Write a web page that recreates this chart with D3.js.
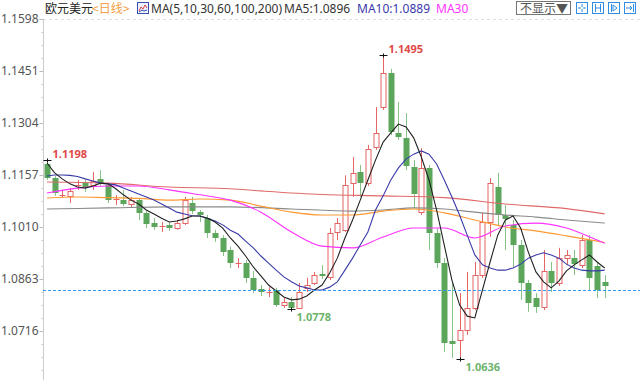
<!DOCTYPE html>
<html>
<head>
<meta charset="utf-8">
<script src="https://cdn.jsdelivr.net/npm/d3@7"></script>
<style>
body {margin:0;background:#fff;}
svg {display:block;font-family:"Noto Sans","Noto Sans CJK SC",sans-serif;}
</style>
</head>
<body>
<svg id="chart" width="640" height="380"></svg>
<script>
// daily candles
var opens  = [1.1188,1.1148,1.1101,1.1098,1.1129,1.1134,1.1129,1.1146,1.1129,1.1089,1.1086,1.1075,1.1086,1.1050,1.1021,1.1013,1.1016,1.1007,1.1021,1.1078,
              1.1052,1.1035,1.0993,1.0979,1.0945,1.0908,1.0908,1.0866,1.0835,1.0826,1.0832,1.0789,1.0798,1.0781,1.0838,1.0852,1.0877,1.0869,1.0996,1.1002,
              1.1134,1.1165,1.1134,1.1236,1.1349,1.1445,1.1276,1.1262,1.1180,1.1052,1.1177,1.0993,1.0908,1.0688,1.0691,1.0719,1.0781,1.0874,1.1024,1.1123,
              1.1044,1.1016,1.0959,1.0852,1.0809,1.0784,1.0886,1.0852,1.0922,1.0922,1.0902,1.0973,1.0900,1.0855];
var highs  = [1.1198,1.1154,1.1115,1.1120,1.1143,1.1143,1.1165,1.1171,1.1134,1.1100,1.1115,1.1095,1.1092,1.1058,1.1035,1.1024,1.1024,1.1030,1.1095,1.1095,
              1.1058,1.1044,1.1002,1.0987,1.0954,1.0922,1.0917,1.0886,1.0846,1.0840,1.0838,1.0809,1.0812,1.0852,1.0866,1.0883,1.0902,1.1007,1.1035,1.1156,
              1.1208,1.1185,1.1242,1.1349,1.1495,1.1457,1.1363,1.1332,1.1199,1.1233,1.1185,1.1007,1.0922,1.0852,1.0823,1.0883,1.0911,1.1050,1.1148,1.1163,
              1.1072,1.1030,1.0973,1.0860,1.0823,1.0945,1.0911,1.0951,1.0945,1.0945,1.0987,1.0987,1.0911,1.0874];
var lows   = [1.1143,1.1098,1.1092,1.1078,1.1115,1.1109,1.1115,1.1126,1.1078,1.1072,1.1069,1.1066,1.1030,1.1007,1.1002,1.0996,1.0999,1.1002,1.1016,1.1047,
              1.1024,1.0979,1.0968,1.0928,1.0894,1.0894,1.0852,1.0823,1.0815,1.0812,1.0784,1.0781,1.0778,1.0780,1.0826,1.0846,1.0863,1.0860,1.0973,1.0996,
              1.1095,1.1095,1.1126,1.1228,1.1341,1.1270,1.1256,1.1171,1.1064,1.1044,1.0945,1.0894,1.0657,1.0640,1.0636,1.0705,1.0775,1.0866,1.0982,1.1016,
              1.0945,1.0897,1.0804,1.0770,1.0767,1.0775,1.0826,1.0843,1.0902,1.0874,1.0894,1.0832,1.0809,1.0809];
var closes = [1.1148,1.1106,1.1101,1.1112,1.1129,1.1123,1.1140,1.1134,1.1086,1.1089,1.1075,1.1086,1.1050,1.1020,1.1010,1.1013,1.1007,1.1021,1.1086,1.1055,
              1.1044,1.0993,1.0979,1.0939,1.0908,1.0908,1.0866,1.0832,1.0826,1.0826,1.0789,1.0798,1.0781,1.0826,1.0846,1.0874,1.0871,1.0993,1.1021,1.1129,
              1.1163,1.1134,1.1231,1.1276,1.1445,1.1279,1.1264,1.1182,1.1103,1.1177,1.0993,1.0908,1.0682,1.0679,1.0719,1.0781,1.0874,1.1024,1.1134,1.1044,
              1.1033,1.0959,1.0852,1.0795,1.0784,1.0886,1.0852,1.0922,1.0931,1.0905,1.0973,1.0866,1.0832,1.0843];

// moving averages
var ma5  = [1.1191,1.1163,1.1146,1.1132,1.1123,1.1120,1.1126,1.1134,1.1132,1.1118,1.1101,1.1086,1.1075,1.1058,1.1047,1.1035,1.1024,1.1027,1.1033,1.1041,
            1.1041,1.1035,1.1024,1.1007,1.0979,1.0956,1.0928,1.0897,1.0872,1.0846,1.0829,1.0812,1.0804,1.0806,1.0815,1.0832,1.0846,1.0880,1.0922,1.0979,
            1.1030,1.1086,1.1143,1.1199,1.1250,1.1276,1.1301,1.1293,1.1262,1.1208,1.1143,1.1058,1.0959,1.0860,1.0790,1.0758,1.0753,1.0832,1.0911,1.0987,
            1.1030,1.1041,1.1007,1.0939,1.0883,1.0855,1.0838,1.0857,1.0886,1.0903,1.0917,1.0931,1.0911,1.0894];
var ma10 = [1.1154,1.1157,1.1157,1.1156,1.1153,1.1146,1.1140,1.1134,1.1132,1.1129,1.1120,1.1112,1.1103,1.1095,1.1086,1.1075,1.1064,1.1052,1.1047,1.1042,
            1.1041,1.1035,1.1027,1.1016,1.1001,1.0990,1.0970,1.0951,1.0928,1.0908,1.0888,1.0869,1.0855,1.0843,1.0838,1.0832,1.0832,1.0840,1.0855,1.0888,
            1.0922,1.0959,1.0996,1.1058,1.1098,1.1143,1.1177,1.1202,1.1216,1.1225,1.1216,1.1188,1.1143,1.1095,1.1044,1.0987,1.0931,1.0903,1.0894,1.0888,
            1.0888,1.0894,1.0905,1.0922,1.0931,1.0937,1.0931,1.0922,1.0905,1.0894,1.0888,1.0886,1.0886,1.0888];
var ma30Idx  = [0,4,8,12,16,20,24,28,32,36,40,44,48,52,56,60,64,68,72,73];
var ma30     = [1.1106,1.1120,1.1126,1.1126,1.1115,1.1101,1.1086,1.1052,1.0996,1.0956,1.0951,1.0982,1.1007,1.1007,1.0979,1.1013,1.1021,1.1007,1.0973,1.0964];
var ma60Idx  = [0,4,8,12,16,20,24,28,32,36,40,44,48,52,56,60,64,68,72,73];
var ma60     = [1.1092,1.1095,1.1093,1.1091,1.1086,1.1089,1.1086,1.1069,1.1052,1.1044,1.1044,1.1055,1.1061,1.1050,1.1030,1.1010,1.0999,1.0985,1.0970,1.0966];
var ma100Idx = [0,8,16,24,32,40,44,48,52,56,60,64,68,73];
var ma100    = [1.1061,1.1064,1.1067,1.1067,1.1061,1.1055,1.1058,1.1064,1.1061,1.1052,1.1044,1.1038,1.1030,1.1021];
var ma200Idx = [0,8,16,24,28,36,44,52,60,68,73];
var ma200    = [1.1137,1.1134,1.1123,1.1118,1.1112,1.1102,1.1098,1.1093,1.1075,1.1062,1.1047];

var yTicks = [1.1598,1.1451,1.1304,1.1157,1.1010,1.0863,1.0716];
var lastLine = 1.0832;
var markIdx  = [0, 44, 32, 54];
var markKind = ["high", "high", "low", "low"];

var svg = d3.select("#chart");
var n = closes.length;
var x = d3.scaleLinear().domain([0, n - 1]).range([47, 604.7]);
var y = d3.scaleLinear().domain([1.0716, 1.1598]).range([331, 19]);
var fmt = d3.format(".4f");

// top dashed line
svg.append("line").attr("x1", 43).attr("x2", 640).attr("y1", 19.5).attr("y2", 19.5)
  .attr("stroke", "#ddd").attr("stroke-dasharray", "3,3");

// y axis
var step = yTicks[0] - yTicks[1];
var minor = d3.range(0, 28).map(function(k) { return yTicks[0] - k * step / 4; });
svg.append("g").attr("transform", "translate(43.5,0)")
  .call(d3.axisLeft(y).tickValues(minor).tickSize(2).tickFormat(""))
  .call(function(g) { g.select(".domain").remove(); g.selectAll("line").attr("stroke", "#ccc"); });
svg.append("g").attr("transform", "translate(43.5,0)")
  .call(d3.axisLeft(y).tickValues(yTicks).tickSize(4).tickPadding(1).tickFormat(fmt))
  .call(function(g) {
    g.select(".domain").remove();
    g.selectAll("line").attr("stroke", "#bbb");
    g.selectAll("text").attr("fill", "#555").attr("font-size", 12)
      .attr("font-family", "'Noto Sans',sans-serif");
  });
svg.append("line").attr("x1", 43.5).attr("x2", 43.5).attr("y1", 19).attr("y2", 380).attr("stroke", "#ccc");

// candles
var up = "#e56565", down = "#5ca65c", downWick = "#86c286";
var cg = svg.append("g");
closes.forEach(function(c, i) {
  var cx = Math.round(x(i)) + 0.5;
  var o = opens[i];
  var rising = c >= o;
  cg.append("line").attr("x1", cx).attr("x2", cx)
    .attr("y1", y(highs[i])).attr("y2", y(lows[i]))
    .attr("stroke", rising ? up : downWick);
  var top = y(Math.max(o, c)), bot = y(Math.min(o, c));
  if (c === o) {
    cg.append("line").attr("x1", cx - 3).attr("x2", cx + 3)
      .attr("y1", Math.round(top) + 0.5).attr("y2", Math.round(top) + 0.5).attr("stroke", up);
  } else if (rising) {
    cg.append("rect").attr("x", cx - 2.5).attr("y", Math.round(top) + 0.5)
      .attr("width", 5).attr("height", Math.max(1, Math.round(bot - top)))
      .attr("fill", "#fff").attr("stroke", up);
  } else {
    cg.append("rect").attr("x", cx - 3).attr("y", Math.round(top))
      .attr("width", 6).attr("height", Math.max(1.5, Math.round(bot - top)))
      .attr("fill", down);
  }
});

// moving averages
var lineI = d3.line().x(function(d, i) { return x(i); }).y(function(d) { return y(d); });
var lineS = d3.line().x(function(d) { return x(d[0]); }).y(function(d) { return y(d[1]); })
  .curve(d3.curveMonotoneX);
function pairs(idx, vals) { return idx.map(function(k, j) { return [k, vals[j]]; }); }

var mg = svg.append("g").attr("fill", "none").attr("stroke-width", 1.1);
mg.append("path").attr("d", lineS(pairs(ma200Idx, ma200))).attr("stroke", "#e06a6a");
mg.append("path").attr("d", lineS(pairs(ma100Idx, ma100))).attr("stroke", "#8a8a8a");
mg.append("path").attr("d", lineS(pairs(ma60Idx, ma60))).attr("stroke", "#ff9933");
mg.append("path").attr("d", lineS(pairs(ma30Idx, ma30))).attr("stroke", "#ff33ff");
mg.append("path").attr("d", lineI(ma10)).attr("stroke", "#3a3aa8");
mg.append("path").attr("d", lineI(ma5)).attr("stroke", "#222");

// last price line
svg.append("line").attr("x1", 43).attr("x2", 640)
  .attr("y1", Math.round(y(lastLine)) + 0.5).attr("y2", Math.round(y(lastLine)) + 0.5)
  .attr("stroke", "#3399ff").attr("stroke-dasharray", "3,2");

// high / low marks
markIdx.forEach(function(i, j) {
  var hi = markKind[j] === "high";
  var v = hi ? highs[i] : lows[i];
  var cx = Math.round(x(i)) + 0.5, cy = Math.round(y(v)) + 0.5;
  svg.append("line").attr("x1", cx - 4).attr("x2", cx + 4).attr("y1", cy).attr("y2", cy).attr("stroke", "#111");
  svg.append("line").attr("x1", cx).attr("x2", cx).attr("y1", cy - 2).attr("y2", cy + 2).attr("stroke", "#111");
  svg.append("text").attr("x", cx + 5).attr("y", hi ? cy - 3 : cy + 11)
    .attr("font-size", 11).attr("font-weight", "bold")
    .attr("fill", hi ? "#e04848" : "#6db36d").text(fmt(v));
});

// header
var hd = svg.append("g").attr("font-size", 12);
hd.append("text").attr("x", 45).attr("y", 13).attr("fill", "#222")
  .attr("font-family", "'Noto Sans CJK SC',sans-serif").text("欧元美元");
hd.append("text").attr("x", 92).attr("y", 13).attr("fill", "#f2a04a")
  .attr("font-family", "'Noto Sans CJK SC',sans-serif").text("<日线>");
hd.append("rect").attr("x", 137.5).attr("y", 2.5).attr("width", 11).attr("height", 11)
  .attr("fill", "#eef2ff").attr("stroke", "#3a4fb0");
hd.append("polyline").attr("points", "139,11 141,7 143,9 145,5 147,8")
  .attr("fill", "none").attr("stroke", "#e04040");
hd.append("polyline").attr("points", "139,12 142,10 144,11 147,10")
  .attr("fill", "none").attr("stroke", "#3a4fb0");
hd.append("text").attr("x", 151).attr("y", 13).attr("fill", "#333").text("MA(5,10,30,60,100,200)");
hd.append("text").attr("x", 284).attr("y", 13).attr("fill", "#333").text("MA5:1.0896");
hd.append("text").attr("x", 357).attr("y", 13).attr("fill", "#3a3aa8").text("MA10:1.0889");
hd.append("text").attr("x", 436).attr("y", 13).attr("fill", "#ff33ff").text("MA30");

hd.append("rect").attr("x", 516.5).attr("y", 1.5).attr("width", 54).attr("height", 13)
  .attr("fill", "#fff").attr("stroke", "#777");
hd.append("text").attr("x", 520).attr("y", 12.5).attr("fill", "#555")
  .attr("font-family", "'Noto Sans CJK SC',sans-serif").text("不显示▼");

[576, 592, 608, 624].forEach(function(bx, k) {
  var b = hd.append("g").attr("stroke", "#2f8de4").attr("fill", "none");
  b.append("rect").attr("x", bx + 0.5).attr("y", 2.5).attr("width", 11).attr("height", 11).attr("fill", "#fff");
  if (k === 0) {
    b.append("path").attr("d", "M" + (bx + 6) + ",4V7M" + (bx + 6) + ",9V12M" + (bx + 2) + ",8H" + (bx + 5) + "M" + (bx + 7) + ",8H" + (bx + 10));
  } else if (k === 1) {
    b.append("path").attr("d", "M" + (bx + 3.5) + ",4V12M" + (bx + 8.5) + ",4V12M" + (bx + 4) + ",8H" + (bx + 8));
  } else if (k === 2) {
    b.append("path").attr("d", "M" + (bx + 3.5) + ",4V12M" + (bx + 5) + ",5L" + (bx + 9) + ",8L" + (bx + 5) + ",11Z");
  } else {
    b.append("path").attr("d", "M" + (bx + 9.5) + ",4V12M" + (bx + 2) + ",8H" + (bx + 8) + "M" + (bx + 6) + ",6L" + (bx + 8) + ",8L" + (bx + 6) + ",10");
  }
});
</script>
</body>
</html>
